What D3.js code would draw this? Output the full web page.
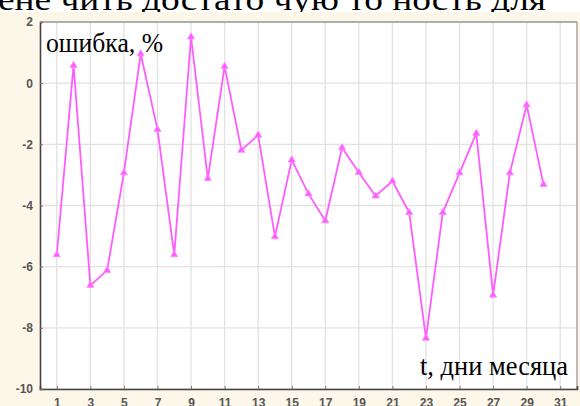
<!DOCTYPE html>
<html><head><meta charset="utf-8">
<script src="https://cdn.jsdelivr.net/npm/d3@7"></script>
</head>
<body style="margin:0;background:#fff">
<svg id="c" width="580" height="406" style="display:block"></svg>
<script>
const days = d3.range(1, 31);
const errorPct = [-5.61, 0.58, -6.61, -6.12, -2.93, 0.96, -1.51, -5.61, 1.51, -3.12,
  0.55, -2.19, -1.70, -5.02, -2.51, -3.62, -4.50, -2.11, -2.92, -3.69,
  -3.20, -4.23, -8.34, -4.23, -2.93, -1.64, -6.93, -2.93, -0.71, -3.31];
const xTicks = [1,3,5,7,9,11,13,15,17,19,21,23,25,27,29,31];
const yTicks = [2,0,-2,-4,-6,-8,-10];
const yLabel = "ошибка, %";
const xLabel = "t, дни месяца";
const topText = "ене чить достато чую то ность для";

const SERIF = "Liberation Serif";
const SANS = "Liberation Sans";
const svg = d3.select("#c");
const L = 40, R = 577, T = 22, B = 389;
const x = d3.scaleLinear().domain([0, 32]).range([L, R]);
const y = d3.scaleLinear().domain([-10, 2]).range([B, T]);

// top cropped page text
svg.append("text").attr("x",-2).attr("y",10).attr("font-family",SERIF).attr("font-size",32)
  .attr("textLength",548).attr("lengthAdjust","spacingAndGlyphs")
  .attr("fill","#000").text(topText);
// cream background
svg.append("rect").attr("x",0).attr("y",12).attr("width",580).attr("height",394).attr("fill","#fdf7e9");

// plot area
svg.append("rect").attr("x",L).attr("y",T).attr("width",R-L).attr("height",B-T).attr("fill","#fff");

// grid
svg.append("g").selectAll("line").data(xTicks).join("line")
  .attr("x1",d=>x(d)).attr("x2",d=>x(d)).attr("y1",T).attr("y2",B)
  .attr("stroke","#e2e2e2").attr("stroke-width",1.3);
svg.append("g").selectAll("line").data(yTicks).join("line")
  .attr("x1",L).attr("x2",R).attr("y1",d=>y(d)).attr("y2",d=>y(d))
  .attr("stroke","#e2e2e2").attr("stroke-width",1.3);

// frame
svg.append("line").attr("x1",L).attr("x2",R).attr("y1",T).attr("y2",T).attr("stroke","#999").attr("stroke-width",1.3);
svg.append("line").attr("x1",R).attr("x2",R).attr("y1",T).attr("y2",B).attr("stroke","#999").attr("stroke-width",1.3);

// axes
const xAxis = d3.axisBottom(x).tickValues(xTicks).tickSize(-3).tickPadding(9).tickFormat(d3.format("d"));
const yAxis = d3.axisLeft(y).tickValues(yTicks).tickSize(-3).tickPadding(7).tickFormat(d=>d);
const gx = svg.append("g").attr("transform",`translate(0,${B})`).call(xAxis);
const gy = svg.append("g").attr("transform",`translate(${L},0)`).call(yAxis);
[gx,gy].forEach(g=>{
  g.attr("font-family",SANS).attr("font-size",12);
  g.select(".domain").attr("stroke","#444").attr("stroke-width",1.6);
  g.selectAll(".tick line").attr("stroke","#777");
  g.selectAll(".tick text").attr("fill","#555").attr("font-weight","bold");
});

// line
const line = d3.line().x((d,i)=>x(days[i])).y(d=>y(d));
svg.append("path").datum(errorPct).attr("d",line).attr("fill","none")
  .attr("stroke","#ff5cff").attr("stroke-width",1.8).attr("stroke-linejoin","miter");
const tri = d3.symbol().type(d3.symbolTriangle).size(22);
svg.append("g").selectAll("path").data(errorPct).join("path")
  .attr("d",tri).attr("transform",(d,i)=>`translate(${x(days[i])},${y(d)})`)
  .attr("fill","#ff5cff").attr("stroke","#ff8cff").attr("stroke-width",0.8);

// labels
svg.append("text").attr("x",46).attr("y",52).attr("font-family",SERIF).attr("font-size",28)
  .attr("textLength",117).attr("lengthAdjust","spacingAndGlyphs").attr("fill","#000").text(yLabel);
svg.append("text").attr("x",420).attr("y",375).attr("font-family",SERIF).attr("font-size",28)
  .attr("textLength",148).attr("lengthAdjust","spacingAndGlyphs").attr("fill","#000").text(xLabel);
</script>
</body></html>
